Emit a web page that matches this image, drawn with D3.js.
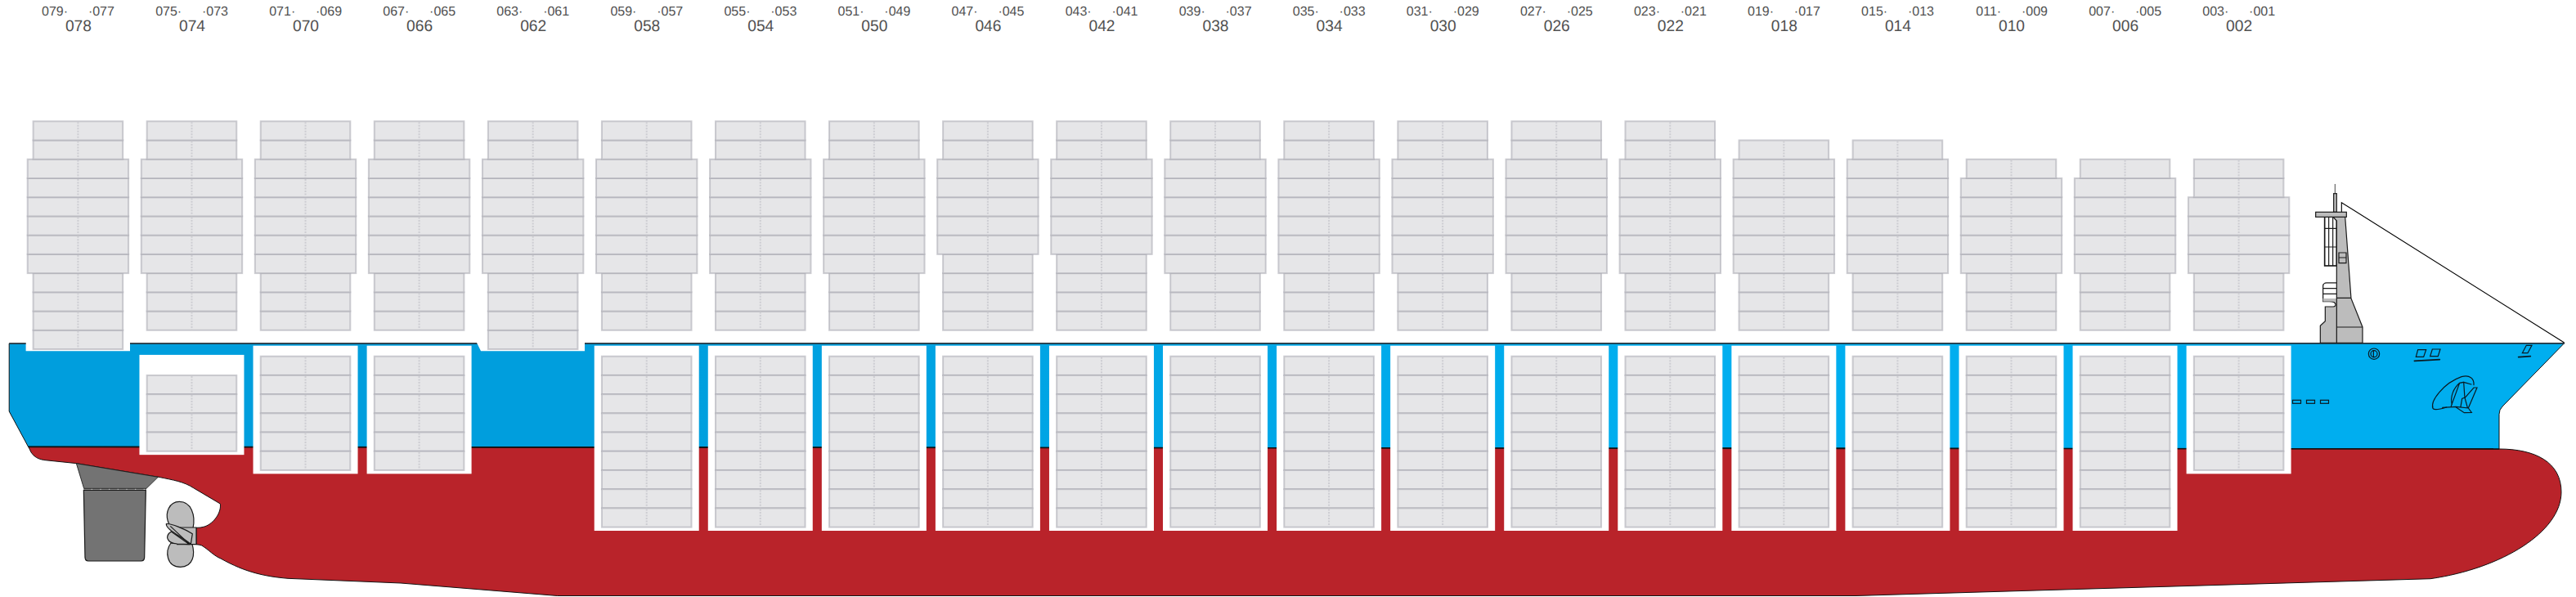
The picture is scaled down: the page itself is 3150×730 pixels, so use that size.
<!DOCTYPE html>
<html>
<head>
<meta charset="utf-8">
<script src="https://cdn.jsdelivr.net/npm/d3@7"></script>
<style>
  html, body { margin: 0; padding: 0; background: #fff; }
  svg { display: block; }
  text { font-family: "Liberation Sans", sans-serif; fill: #505050; text-rendering: geometricPrecision; }
</style>
</head>
<body>
<div id="chart"></div>
<script>
// bay plan, aft to fore
const bays      = ['078','074','070','066','062','058','054','050','046','042','038','034','030','026','022','018','014','010','006','002'];
const oddAft    = ['079','075','071','067','063','059','055','051','047','043','039','035','031','027','023','019','015','011','007','003'];
const oddFore   = ['077','073','069','065','061','057','053','049','045','041','037','033','029','025','021','017','013','009','005','001'];
// on deck tiers, counted upward from the stack base
const deckBase  = [0,1,1,1,0,1,1,1,1,1,1,1,1,1,1,1,1,1,1,1];
const deckLower = [4,3,3,3,4,3,3,3,4,4,3,3,3,3,3,3,3,3,3,3];
const deckWide  = [6,6,6,6,6,6,6,6,5,5,6,6,6,6,6,6,6,5,5,4];
const deckUpper = [2,2,2,2,2,2,2,2,2,2,2,2,2,2,2,1,1,1,1,2];
// below deck tiers, counted downward from the hatch
const holdSkip  = [0,1,0,0,0,0,0,0,0,0,0,0,0,0,0,0,0,0,0,0];
const holdTiers = [0,4,6,6,0,9,9,9,9,9,9,9,9,9,9,9,9,9,9,6];
const ports     = [0,1,2];

const width = 3150, height = 730;
const x = d3.scalePoint().domain(bays).range([95.4, 2737.6]);
const yDeck = d3.scaleLinear().domain([0, 12]).range([427, 148.3]);
const yHold = d3.scaleLinear().domain([0, 9]).range([435.7, 644.6]);
const halfNarrow = 54.8, halfWide = 61.7, halfBox = 64;

const svg = d3.select('#chart').append('svg').attr('width', width).attr('height', height);

// gradient for the slightly darker aft blue
const grad = svg.append('defs').append('linearGradient')
  .attr('id', 'blue').attr('gradientUnits', 'userSpaceOnUse')
  .attr('x1', 760).attr('x2', 2000).attr('y1', 0).attr('y2', 0);
grad.append('stop').attr('offset', 0).attr('stop-color', '#009edd');
grad.append('stop').attr('offset', 1).attr('stop-color', '#00aeef');

// hull, blue side first then the red below the waterline
const hull = svg.append('g');
hull.append('path')
  .attr('d', 'M11.2 420 V503 L34.7 546.5 L3056 549 V506.7 Q3056 501 3060 497 L3135.8 419.5 Z')
  .attr('fill', 'url(#blue)').attr('stroke', '#111').attr('stroke-width', 1);
hull.append('path')
  .attr('d', 'M34.7 546 L38 553 Q43 561 53.6 562.5 L94 566.7 L194 583.3 C212 587 225 589 236.7 596.7 L269.3 616 C271 626 262 640 250 644 Q245 645.5 240 645.3 V665.7 Q244 666 246.7 667 C255 672 262 680 270 683 C300 700 325 705 352 707.3 L490 713 L681.7 728.5 L2269 728.5 L2972 707.7 C3060 695 3132 650 3132 601.7 C3132 565 3100 549 3056 549 Z')
  .attr('fill', '#b9232a').attr('stroke', '#111').attr('stroke-width', 1);
hull.append('line').attr('x1', 34.7).attr('y1', 546.5).attr('x2', 3056).attr('y2', 549)
  .attr('stroke', '#111').attr('stroke-width', 1.6);

// deck line and the two notches for the low stacks
hull.append('path')
  .attr('d', 'M31.6 419 V429.3 H159 V419 Z M583 419 L588 429.3 H715 V419 Z')
  .attr('fill', '#fff');
hull.append('path')
  .attr('d', 'M11.2 420 H31.6 M159 420 H583 M715 420 H3135.8')
  .attr('stroke', '#2b3a44').attr('stroke-width', 1.6).attr('fill', 'none');

// white hatch boxes
const boxes = bays.map((b, i) => ({ b, i })).filter(d => holdTiers[d.i] > 0);
svg.append('g').selectAll('rect').data(boxes).join('rect')
  .attr('x', d => x(d.b) - halfBox)
  .attr('width', halfBox * 2)
  .attr('y', d => yHold(holdSkip[d.i]) - 13 - 12 * holdSkip[d.i])
  .attr('height', d => yHold(holdSkip[d.i] + holdTiers[d.i]) + 4.4 - (yHold(holdSkip[d.i]) - 13 - 12 * holdSkip[d.i]))
  .attr('fill', '#fff');

// one row per container tier
const rows = [];
bays.forEach((b, i) => {
  let t = deckBase[i];
  d3.range(deckLower[i]).forEach(() => { rows.push({ b, top: yDeck(t + 1), bot: yDeck(t), half: halfNarrow }); t++; });
  d3.range(deckWide[i]).forEach(() => { rows.push({ b, top: yDeck(t + 1), bot: yDeck(t), half: halfWide }); t++; });
  d3.range(deckUpper[i]).forEach(() => { rows.push({ b, top: yDeck(t + 1), bot: yDeck(t), half: halfNarrow }); t++; });
  d3.range(holdTiers[i]).forEach(k => {
    rows.push({ b, top: yHold(holdSkip[i] + k), bot: yHold(holdSkip[i] + k + 1), half: halfNarrow });
  });
});

const cells = svg.append('g');
cells.selectAll('rect').data(rows).join('rect')
  .attr('x', d => x(d.b) - d.half)
  .attr('width', d => d.half * 2)
  .attr('y', d => d.top)
  .attr('height', d => d.bot - d.top)
  .attr('fill', '#e6e6e8')
  .attr('stroke', '#a5a5ae')
  .attr('stroke-opacity', 0.55)
  .attr('stroke-width', 2);
cells.selectAll('line').data(rows).join('line')
  .attr('x1', d => x(d.b)).attr('x2', d => x(d.b))
  .attr('y1', d => d.top + 1).attr('y2', d => d.bot - 1)
  .attr('stroke', '#cdcdd2').attr('stroke-width', 2).attr('stroke-dasharray', '2 1.5');

// bay numbers
const axisBay = svg.append('g').attr('transform', 'translate(0,37.7)').attr('opacity', 0.99)
  .call(d3.axisTop(x).tickSize(0));
axisBay.select('.domain').remove();
axisBay.selectAll('text')
  .attr('y', 0).attr('dy', 0)
  .style('font-family', '"Liberation Sans", sans-serif')
  .style('font-size', '19.2px')
  .style('fill', '#505050');

// 40ft bay has two 20ft numbers above it
const labels = svg.append('g').style('font-size', '16px').attr('opacity', 0.99);
labels.selectAll('text.aft').data(bays).join('text').attr('class', 'aft')
  .attr('x', d => x(d) - 12.3).attr('y', 18.6).attr('text-anchor', 'end')
  .text((d, i) => oddAft[i] + '·');
labels.selectAll('text.fore').data(bays).join('text').attr('class', 'fore')
  .attr('x', d => x(d) + 12.5).attr('y', 18.6).attr('text-anchor', 'start')
  .text((d, i) => '·' + oddFore[i]);

// rudder and propeller, drawn in 3x units
const stern = svg.append('g').attr('transform', 'translate(60,540) scale(0.3333)')
  .attr('stroke', '#1a1a1a').attr('stroke-width', 3.6).attr('stroke-linejoin', 'round');
stern.append('path').attr('d', 'M100 80 L400 130 L357 172 H128 Z').attr('fill', '#737373').attr('stroke-width', 2.6);
stern.append('path').attr('d', 'M127 178 H355 L350 425 Q349 438 338 438 H144 Q133 438 132 425 Z').attr('fill', '#737373');
stern.append('line').attr('x1', 127).attr('x2', 357).attr('y1', 174).attr('y2', 174).attr('stroke-width', 2.4).attr('stroke-dasharray', '28 4');
stern.append('path').attr('d', 'M528 318 C538 270 522 220 478 220 C440 220 426 262 436 292 L448 322 Z').attr('fill', '#bcbcbc');
stern.append('path').attr('d', 'M447 372 C425 402 430 460 482 460 C530 460 536 412 525 376 Z').attr('fill', '#bcbcbc');
stern.append('path').attr('d', 'M470 315 L540 315 V377 H470 Z').attr('fill', '#bcbcbc');
stern.append('path').attr('d', 'M448 330 C425 345 430 372 470 375 L515 377 Z').attr('fill', '#bcbcbc');
stern.append('path').attr('d', 'M430 302 C445 298 500 322 526 338 L520 376 C480 345 428 322 430 302 Z').attr('fill', '#bcbcbc');
stern.append('line').attr('x1', 445).attr('y1', 310).attr('x2', 515).attr('y2', 376);

// forward mast, drawn in 3x units
const mast = svg.append('g').attr('transform', 'translate(2780,210) scale(0.3333)')
  .attr('stroke', '#1a1a1a').attr('stroke-width', 3.6).attr('stroke-linejoin', 'miter').attr('fill', '#bcbcbc');
mast.append('line').attr('x1', 226).attr('x2', 226).attr('y1', 45).attr('y2', 80).attr('stroke-width', 2.4);
mast.append('rect').attr('x', 221).attr('y', 80).attr('width', 11).attr('height', 68);
mast.append('path').attr('d', 'M250 148 V113 L1067 627').attr('fill', 'none').attr('stroke', '#000').attr('stroke-width', 3.4);
mast.append('rect').attr('x', 188).attr('y', 165).attr('width', 44).attr('height', 180).attr('fill', '#fff').attr('stroke-width', 5);
mast.append('path').attr('d', 'M203 165 V345 M218 165 V345 M188 208 H232 M188 276 H232').attr('fill', 'none');
mast.append('path').attr('d', 'M172 628 V565 L190 548 V495 H215 Q228 495 228 488 Q228 476 205 476 H182 V420 Q182 408 195 408 H233 V628 Z');
mast.append('rect').attr('x', 182).attr('y', 408).attr('width', 50).attr('height', 58).attr('fill', '#fff').attr('stroke', 'none');
mast.append('path').attr('d', 'M233 408 H195 Q182 408 182 420 V466 M182 428 H232 M182 448 H232').attr('fill', 'none');
mast.append('rect').attr('x', 182).attr('y', 465).attr('width', 50).attr('height', 11).attr('stroke', 'none');
mast.append('path').attr('d', 'M218 165 L232 180 V628 H327 V570 L285 465 L263 165 Z');
mast.append('path').attr('d', 'M232 463 H285 M232 570 H327').attr('fill', 'none');
mast.append('rect').attr('x', 155).attr('y', 148).attr('width', 113).attr('height', 18);
mast.append('path').attr('d', 'M240 297 H267 V335 H240 Z M240 315 H267');

// small fittings on the bow, drawn in 3x units
const bow = svg.append('g').attr('transform', 'translate(2860,400) scale(0.3333)')
  .attr('stroke', '#0a1a22').attr('stroke-width', 3.6).attr('fill', 'none').attr('stroke-linecap', 'round');
bow.append('circle').attr('cx', 129).attr('cy', 98).attr('r', 20);
bow.append('circle').attr('cx', 129).attr('cy', 98).attr('r', 12);
bow.append('line').attr('x1', 127).attr('x2', 127).attr('y1', 86).attr('y2', 110);
bow.append('path').attr('d', 'M290 83 H320 L311 109 H283 Z M343 81 H372 L364 107 H335 Z M673 95 L688 67 H708 L693 95 Z');
bow.append('path').attr('d', 'M277 124 L370 119 M659 110 L703 107').attr('stroke-width', 5);
// anchor
bow.append('path').attr('d', 'M345 298 C335 270 385 205 450 182 C480 174 497 188 495 212 M345 298 C350 306 375 300 395 294');
bow.append('path').attr('d', 'M380 295 L430 292 L475 297 L487 313 L460 314 L430 294 M412 290 L443 205 L458 202 L462 260 M443 205 C420 225 408 255 415 285 M458 202 L486 210 M462 260 L495 222 L507 222 L475 297 M447 292 L452 262 L462 258 L472 295');

// hawse ports beside the last hatch
svg.append('g').attr('stroke', '#0a1a22').attr('stroke-width', 1.2).attr('fill', 'none')
  .selectAll('rect').data(ports).join('rect')
  .attr('x', d => 2803.5 + d * 17).attr('y', 489.3).attr('width', 10).attr('height', 4);
</script>
</body>
</html>
